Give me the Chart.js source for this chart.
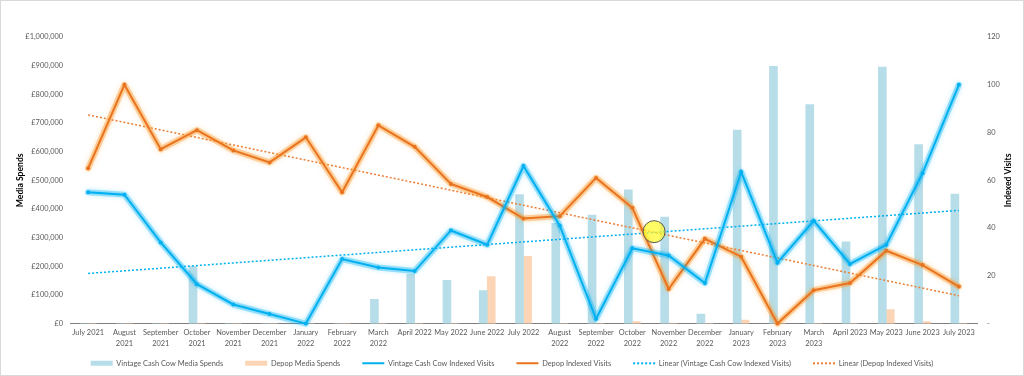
<!DOCTYPE html>
<html>
<head>
<meta charset="utf-8">
<script src="https://cdn.jsdelivr.net/npm/chart.js@4.4.1/dist/chart.umd.min.js"></script>
<style>
    html, body { margin: 0; padding: 0; background: #fff; }
    #frame { width: 1024px; height: 376px; box-sizing: border-box; border: 1px solid #d9d9d9; }
    #holder { position: relative; width: 1022px; height: 374px; }
</style>
</head>
<body>
<div id="frame"><div id="holder"><canvas id="board"></canvas></div></div>
<script>
// categories (x axis tick labels, wrapped as in the original)
const months = ['July 2021', ['August', '2021'], ['September', '2021'], ['October', '2021'], ['November', '2021'],
    ['December', '2021'], ['January', '2022'], ['February', '2022'], ['March', '2022'], 'April 2022', 'May 2022',
    'June 2022', 'July 2022', ['August', '2022'], ['September', '2022'], ['October', '2022'], ['November', '2022'],
    ['December', '2022'], ['January', '2023'], ['February', '2023'], ['March', '2023'], 'April 2023', 'May 2023',
    'June 2023', 'July 2023'];

// media spends (left axis, GBP)
const vintageSpend = [0, 0, 0, 200000, 0, 0, 0, 0, 85000, 173000, 151000, 115000, 450000, 350000, 379000,
    467000, 372000, 33000, 675000, 898000, 764000, 285000, 895000, 625000, 452000];
const depopSpend = [0, 0, 0, 0, 0, 0, 0, 0, 0, 0, 0, 164000, 235000, 0, 0, 7000, 0, 0, 12000, 0, 0, 0, 49000, 7000, 0];

// indexed visits (right axis)
const vintageVisits = [55, 54, 34, 16.5, 8, 4, 0, 27, 23.5, 22, 39, 33, 66, 41, 2, 31.5, 28.5, 17, 63.5, 25.5,
    43, 25, 33, 63, 100];
const depopVisits = [65, 100, 73, 81, 72.5, 67.5, 78, 55, 83, 74, 58.5, 53, 44, 45, 61, 48.5, 14.5, 35.5, 28, 0,
    14, 17, 30.5, 24.5, 15.5];

// linear trend lines, start and end values
const vintageTrendEnds = [21, 47.4];
const depopTrendEnds = [87.4, 11.7];

// the yellow marker sitting between October and November 2022
const highlightPoint = [{ x: 15.6, y: 38.5 }];

const leftTicks = { min: 0, max: 1000000, step: 100000 };
const rightTicks = { min: 0, max: 120, step: 20 };

const tickColor = '#595959';
const baseFont = { family: 'Lato', size: 7.4 };
const lastIndex = months.length - 1;
// bars sit side by side, each one shifted this share of a category from the centre
const barShift = 0.11;

function endsToSeries(ends) {
    var arr = months.map(() => null);
    arr[0] = ends[0];
    arr[arr.length - 1] = ends[1];
    return arr;
}

function indexed(values) {
    return values.map((v, i) => ({ x: i, y: v }));
}

// hidden linear axis lined up with the category slots, optionally nudged sideways
function slotAxis(shift) {
    return { type: 'linear', display: false, offset: false, min: -0.5 + shift, max: lastIndex + 0.5 + shift };
}

// soft halo under the two visit lines (Excel "glow")
const glow = {
    id: 'glow',
    beforeDatasetDraw(chart, args, options) {
        const c = options.colors[args.meta.label];
        if (!c) {
            return;
        }
        const ctx = chart.ctx;
        const pts = args.meta.data;
        ctx.save();
        ctx.lineJoin = 'round';
        ctx.lineCap = 'round';
        ctx.strokeStyle = c.band;
        ctx.lineWidth = 6;
        ctx.shadowColor = c.blur;
        ctx.shadowBlur = 5;
        ctx.beginPath();
        pts.forEach((p, i) => {
            if (i === 0) ctx.moveTo(p.x, p.y);
            else ctx.lineTo(p.x, p.y);
        });
        ctx.stroke();
        ctx.restore();
    }
};

// x tick labels are clipped to the axis box, give them room after layout
const xLabelRoom = {
    id: 'xLabelRoom',
    beforeDraw(chart) {
        const s = chart.scales.x;
        s.bottom = s.top + 30;
    }
};

// right hand axis title reads bottom to top in the original
const rightTitle = {
    id: 'rightTitle',
    afterDraw(chart) {
        const s = chart.scales.y1;
        const ctx = chart.ctx;
        ctx.save();
        ctx.translate(s.right - 7, (s.top + s.bottom) / 2);
        ctx.rotate(-Math.PI / 2);
        ctx.font = 'bold 8.6px Lato';
        ctx.fillStyle = '#000';
        ctx.textAlign = 'center';
        ctx.textBaseline = 'middle';
        ctx.fillText('Indexed Visits', 0, 0);
        ctx.restore();
    }
};

const config = {
    data: {
        labels: months,
        datasets: [
            {
                type: 'bar', label: 'Vintage Cash Cow Media Spends', data: indexed(vintageSpend),
                backgroundColor: '#b7dde8', borderWidth: 0, xAxisID: 'xv', yAxisID: 'y',
                grouped: false, barThickness: 8, order: 3
            },
            {
                type: 'bar', label: 'Depop Media Spends', data: indexed(depopSpend),
                backgroundColor: '#fbd5b5', borderWidth: 0, xAxisID: 'xd', yAxisID: 'y',
                grouped: false, barThickness: 8, order: 3
            },
            {
                type: 'line', label: 'Vintage Cash Cow Indexed Visits', data: vintageVisits,
                borderColor: '#00b0f0', backgroundColor: '#00b0f0', borderWidth: 2, tension: 0,
                pointRadius: 2, pointBorderWidth: 0, pointBackgroundColor: '#00b0f0',
                xAxisID: 'x', yAxisID: 'y1', clip: false, order: 1
            },
            {
                type: 'line', label: 'Depop Indexed Visits', data: depopVisits,
                borderColor: '#e9731e', backgroundColor: '#e9731e', borderWidth: 2, tension: 0,
                pointRadius: 2, pointBorderWidth: 0, pointBackgroundColor: '#e9731e',
                xAxisID: 'x', yAxisID: 'y1', clip: false, order: 1
            },
            {
                type: 'line', label: 'Linear (Vintage Cash Cow Indexed Visits)', data: endsToSeries(vintageTrendEnds),
                borderColor: '#00b0f0', backgroundColor: '#00b0f0', borderWidth: 1.5, borderDash: [2, 2],
                pointRadius: 0, spanGaps: true, xAxisID: 'x', yAxisID: 'y1', order: 2
            },
            {
                type: 'line', label: 'Linear (Depop Indexed Visits)', data: endsToSeries(depopTrendEnds),
                borderColor: '#ed7d31', backgroundColor: '#ed7d31', borderWidth: 1.5, borderDash: [2, 2],
                pointRadius: 0, spanGaps: true, xAxisID: 'x', yAxisID: 'y1', order: 2
            },
            {
                type: 'bubble', label: 'highlight', data: highlightPoint,
                backgroundColor: 'rgba(255, 250, 40, 0.72)', borderColor: '#555', borderWidth: 1, radius: 11,
                xAxisID: 'xh', yAxisID: 'y1', clip: false, order: 0
            }
        ]
    },
    options: {
        responsive: true,
        maintainAspectRatio: false,
        animation: false,
        events: [],
        layout: { padding: { top: 36, left: 8, right: 8, bottom: -2 } },
        plugins: {
            tooltip: { enabled: false },
            glow: {
                colors: {
                    'Vintage Cash Cow Indexed Visits': { band: 'rgba(0, 176, 240, 0.35)', blur: 'rgba(0, 190, 255, 0.6)' },
                    'Depop Indexed Visits': { band: 'rgba(250, 150, 40, 0.4)', blur: 'rgba(255, 160, 40, 0.6)' }
                }
            },
            legend: {
                position: 'bottom',
                labels: {
                    usePointStyle: true,
                    pointStyleWidth: 22,
                    boxHeight: 5,
                    padding: 22,
                    color: tickColor,
                    font: baseFont,
                    filter: item => item.text !== 'highlight',
                    sort: (a, b) => a.datasetIndex - b.datasetIndex,
                    generateLabels(chart) {
                        const items = Chart.defaults.plugins.legend.labels.generateLabels(chart);
                        items.forEach(it => {
                            const ds = chart.data.datasets[it.datasetIndex];
                            if (ds.type === 'bar') {
                                it.pointStyle = 'rect';
                                it.lineWidth = 0;
                            } else {
                                it.pointStyle = 'line';
                                it.strokeStyle = ds.borderColor;
                                it.lineWidth = 2;
                                it.lineDash = ds.borderDash || [];
                            }
                        });
                        return items;
                    }
                }
            }
        },
        scales: {
            x: {
                type: 'category',
                offset: true,
                grid: { display: false, drawTicks: false },
                border: { display: true, color: '#7f7f7f', width: 1 },
                ticks: {
                    autoSkip: false, maxRotation: 0, minRotation: 0, padding: 3, color: tickColor,
                    font: { family: 'Lato', size: 7.4, lineHeight: 1.5 }
                },
                afterFit(s) { s.height = 14; }
            },
            xh: slotAxis(0),
            xv: slotAxis(barShift),
            xd: slotAxis(-barShift),
            y: {
                position: 'left',
                min: leftTicks.min,
                max: leftTicks.max,
                grid: { display: false, drawTicks: false },
                border: { display: false },
                ticks: {
                    stepSize: leftTicks.step, padding: 7, color: tickColor, font: baseFont,
                    callback: v => '£' + v.toLocaleString('en-GB')
                },
                title: {
                    display: true, text: 'Media Spends', color: '#000',
                    font: { family: 'Lato', size: 8.6, weight: 'bold' }, padding: { top: 6, bottom: 0 }
                },
                afterFit(s) { s.width = 61; }
            },
            y1: {
                position: 'right',
                min: rightTicks.min,
                max: rightTicks.max,
                grid: { display: false, drawTicks: false },
                border: { display: false },
                ticks: {
                    stepSize: rightTicks.step, padding: 10, color: tickColor, font: baseFont,
                    callback: v => v === 0 ? '-' : v
                },
                afterFit(s) { s.width = 38; }
            }
        }
    },
    plugins: [glow, xLabelRoom, rightTitle]
};

window.myChart = new Chart(document.getElementById('board'), config);
</script>
</body>
</html>
